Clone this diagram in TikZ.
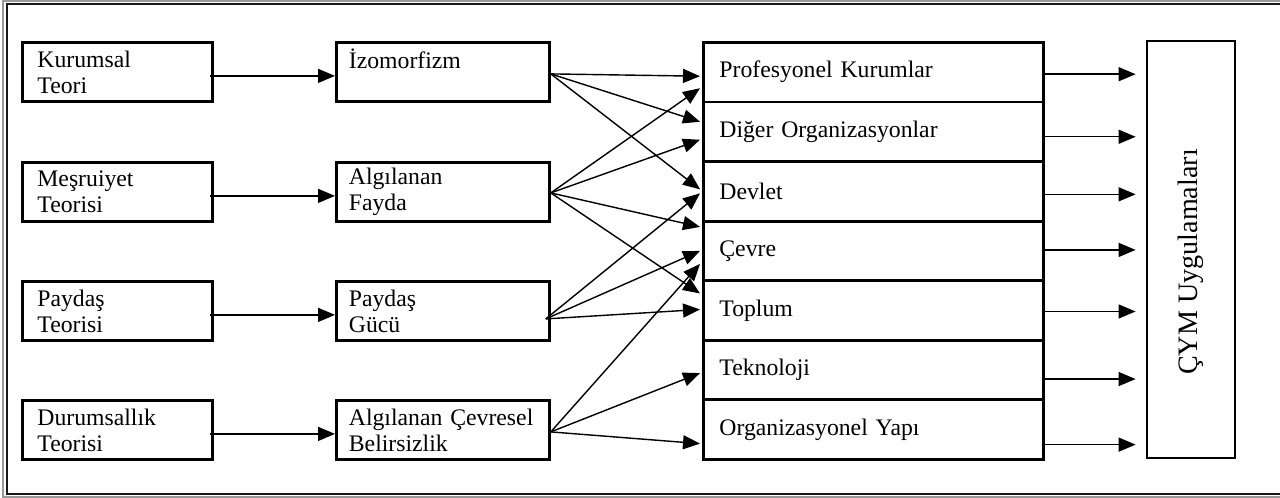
\documentclass[tikz,border=0pt]{standalone}
\usepackage{fontspec}
\setmainfont{Liberation Serif}
\usetikzlibrary{arrows.meta,calc}

\begin{document}
\begin{tikzpicture}[x=0.02cm, y=-0.02cm,                %% 1 unit = 1 px, y downwards
    font=\fontsize{13.5}{14.8}\selectfont,
    every node/.style={draw, line width=1.6pt, align=left, inner ysep=0pt, anchor=north west},
    theory/.style={text width=3.2cm, inner xsep=0.3cm, minimum height=1.18cm},
    driver/.style={text width=3.76cm, inner xsep=0.25cm, minimum height=1.18cm},
    factor/.style={text width=6.16cm, inner xsep=0.32cm, minimum height=1.192cm},
    arr/.style={-{Triangle[length=0.34cm,width=0.28cm]}, line width=0.8pt}
    ]
    \useasboundingbox (0,0) rectangle (1280,497);
    \draw[line width=0.6pt, black!40] (3,1) rectangle (1295,497);
    \draw[line width=1.5pt, black!90] (7,4) rectangle (1295,494);   %% outer frame

    % theories
    \node[theory] (kt) at (21,41)  {Kurumsal\\Teori};
    \node[theory] (mt) at (21,161) {Meşruiyet\\Teorisi};
    \node[theory] (pt) at (21,280) {Paydaş\\Teorisi};
    \node[theory] (dt) at (21,399) {Durumsallık\\Teorisi};

    % drivers
    \node[driver] (izo)    at (335,41)  {İzomorfizm\\\mbox{}};
    \node[driver] (fayda)  at (335,161) {Algılanan\\Fayda};
    \node[driver] (guc)    at (335,280) {Paydaş\\Gücü};
    \node[driver] (belirs) at (335,399) {Algılanan Çevresel\\Belirsizlik};

    % factors
    \foreach \n/\t [count=\i from 0] in {prof/Profesyonel Kurumlar, diger/Diğer Organizasyonlar,
            devlet/Devlet, cevre/Çevre, toplum/Toplum, tekno/Teknoloji, orgyapi/Organizasyonel Yapı}
        \node[factor] (\n) at (702,{41+59.57*\i}) {\t};

    \node[rotate=90, anchor=center, minimum width=8.34cm, minimum height=1.76cm,
          font=\fontsize{16}{19}\selectfont] (cym) at (1191,249.5) {ÇYM Uygulamaları\hspace{0.5cm}};

    \foreach \a/\b in {kt/izo, mt/fayda, pt/guc, dt/belirs}
        \draw[arr] ($(\a.east)+(-4,4)$) -- ($(\b.west)+(0,4)$);

    \foreach \s/\sx/\sy/\t/\ty in {izo/0/2/prof/4, izo/0/2/diger/-10, izo/0/2/devlet/-2,
            fayda/0/1/prof/16, fayda/0/1/diger/8, fayda/0/1/cevre/-24, fayda/0/1/toplum/-17,
            guc/-5/8/devlet/2, guc/-5/8/cevre/0, guc/-5/8/toplum/-1,
            belirs/0/2/cevre/13, belirs/0/2/tekno/3, belirs/0/2/orgyapi/14}
        \draw[arr] ($(\s.east)+(\sx,\sy)$) -- ($(\t.west)+(-2,\ty)$);

    \foreach \n/\d in {prof/2, diger/5, devlet/3, cevre/-1, toplum/1, tekno/9, orgyapi/15}
        \draw[arr] ($(\n.east)+(0,\d)$) -- ($(cym.north |- \n.east)+(-10,\d)$);
\end{tikzpicture}
\end{document}
